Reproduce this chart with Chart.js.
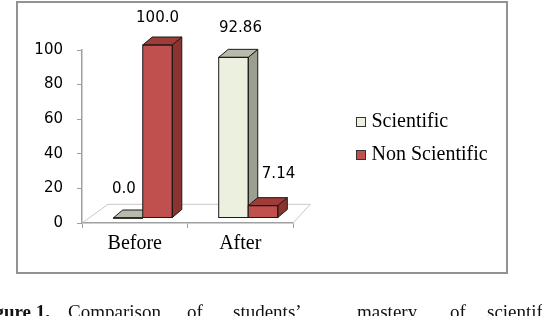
<!DOCTYPE html>
<html>
<head>
<meta charset="utf-8">
<script src="https://cdn.jsdelivr.net/npm/chart.js@4"></script>
<style>
  html, body { margin: 0; padding: 0; background: #fff; overflow: hidden; }
  body { width: 542px; height: 316px; position: relative; }
  #frame { position: absolute; left: 16px; top: 1px; width: 488px; height: 269px; border: 2px solid #929292; }
  #chart { position: absolute; left: 0; top: 0; }
  .cap {
    position: absolute; top: 302px; white-space: nowrap;
    font-family: "Liberation Serif", serif; font-size: 19px; line-height: 19px; color: #111;
  }
</style>
</head>
<body>
<div id="frame"></div>
<canvas id="chart" width="542" height="316"></canvas>
<span class="cap" style="right:492px"><b>Figure 1.</b></span>
<span class="cap" style="left:68px">Comparison</span>
<span class="cap" style="left:187px">of</span>
<span class="cap" style="left:233px">students’</span>
<span class="cap" style="left:357px">mastery</span>
<span class="cap" style="left:450px">of</span>
<span class="cap" style="left:487px">scientific</span>
<script>
const categories = ["Before", "After"];
const seriesNames = ["Scientific", "Non Scientific"];
const scientific = [0.0, 92.86];
const nonScientific = [100.0, 7.14];
const scientificLabels = ["0.0", "92.86"];
const nonScientificLabels = ["100.0", "7.14"];
const yTicks = [0, 20, 40, 60, 80, 100];

// 3d look: front face is shifted, side/top faces go back by DX/DY
const SHIFT_X = 8, SHIFT_Y = -5;
const DX = 9.5, DY = -8;

const faceColors = [
  { front: "#EBF1DE", side: "#9C9F90", top: "#B8BBAA" },
  { front: "#C0504D", side: "#8A3331", top: "#9E3C39" }
];
// label placement relative to the shifted bar top
const labelOffsets = [
  [[-4, -28.5], [7, -29]],
  [[0, -26.7], [15.5, -31.6]]
];
const valueLabels = [scientificLabels, nonScientificLabels];

const bar3d = {
  id: "bar3d",
  beforeDatasetsDraw(chart) {
    // floor
    const ctx = chart.ctx, a = chart.chartArea;
    ctx.save();
    ctx.beginPath();
    ctx.moveTo(a.left, a.bottom);
    ctx.lineTo(a.left + 26, a.bottom - 18.7);
    ctx.lineTo(a.right + 17.3, a.bottom - 18.7);
    ctx.lineTo(a.right, a.bottom);
    ctx.strokeStyle = "#c8c8c8";
    ctx.lineWidth = 1;
    ctx.stroke();
    ctx.restore();
  },
  // skip default drawing, everything is drawn below in series order
  beforeDatasetDraw() {
    return false;
  },
  afterDatasetsDraw(chart) {
    const ctx = chart.ctx;
    ctx.save();
    ctx.translate(SHIFT_X, SHIFT_Y);
    chart.data.datasets.forEach((ds, i) => {
      const meta = chart.getDatasetMeta(i);
      const c = faceColors[i];
      meta.data.forEach(bar => {
        bar.draw(ctx, chart.chartArea);
        const p = bar.getProps(["x", "y", "base", "width"], true);
        const l = p.x - p.width / 2, r = p.x + p.width / 2;
        ctx.lineWidth = 1;
        ctx.strokeStyle = "#1a1a1a";
        // side
        ctx.beginPath();
        ctx.moveTo(r, p.y);
        ctx.lineTo(r + DX, p.y + DY);
        ctx.lineTo(r + DX, p.base + DY);
        ctx.lineTo(r, p.base);
        ctx.closePath();
        ctx.fillStyle = c.side;
        ctx.fill();
        ctx.stroke();
        // top
        ctx.beginPath();
        ctx.moveTo(l, p.y);
        ctx.lineTo(l + DX, p.y + DY);
        ctx.lineTo(r + DX, p.y + DY);
        ctx.lineTo(r, p.y);
        ctx.closePath();
        ctx.fillStyle = c.top;
        ctx.fill();
        ctx.stroke();
        // front outline
        ctx.strokeRect(l, p.y, p.width, p.base - p.y);
      });
    });
    ctx.restore();
  },
  afterDraw(chart) {
    const ctx = chart.ctx;
    ctx.save();
    // value labels
    ctx.font = "15px 'DejaVu Sans'";
    ctx.fillStyle = "#000";
    ctx.textAlign = "center";
    ctx.textBaseline = "middle";
    chart.data.datasets.forEach((ds, i) => {
      chart.getDatasetMeta(i).data.forEach((bar, j) => {
        const o = labelOffsets[i][j];
        ctx.fillText(valueLabels[i][j], bar.x + SHIFT_X + o[0], bar.y + SHIFT_Y + o[1]);
      });
    });
    // legend
    ctx.font = "20px 'Liberation Serif'";
    ctx.textAlign = "left";
    chart.data.datasets.forEach((ds, i) => {
      const y = 122 + i * 33;
      ctx.fillStyle = ds.backgroundColor;
      ctx.fillRect(356.5, y - 4.5, 9, 9);
      ctx.strokeStyle = "#333";
      ctx.lineWidth = 1;
      ctx.strokeRect(356.5, y - 4.5, 9, 9);
      ctx.fillStyle = "#000";
      ctx.fillText(ds.label, 371.5, y);
    });
    ctx.restore();
  }
};

new Chart(document.getElementById("chart"), {
  type: "bar",
  data: {
    labels: categories,
    datasets: [
      { label: seriesNames[0], data: scientific, backgroundColor: faceColors[0].front },
      { label: seriesNames[1], data: nonScientific, backgroundColor: faceColors[1].front }
    ]
  },
  options: {
    responsive: false,
    animation: false,
    events: [],
    categoryPercentage: 0.56,
    barPercentage: 1,
    layout: { padding: { left: 0, right: 249, top: 50, bottom: 33 } },
    plugins: { legend: { display: false }, tooltip: { enabled: false } },
    scales: {
      x: {
        grid: { drawOnChartArea: false, tickLength: 5, color: "#a0a0a0", offset: true },
        border: { color: "#a0a0a0", width: 1.5 },
        ticks: { font: { family: "Liberation Serif", size: 20 }, color: "#000", padding: 4 },
        afterFit(s) { s.height = 60; }
      },
      y: {
        min: 0,
        max: 100,
        afterBuildTicks(s) { s.ticks = yTicks.map(v => ({ value: v })); },
        grid: { drawOnChartArea: false, tickLength: 5, color: "#a0a0a0" },
        border: { color: "#a0a0a0", width: 1.5 },
        ticks: { font: { family: "DejaVu Sans", size: 15 }, color: "#000", padding: 14 },
        afterFit(s) { s.width = 82; }
      }
    }
  },
  plugins: [bar3d]
});
</script>
</body>
</html>
